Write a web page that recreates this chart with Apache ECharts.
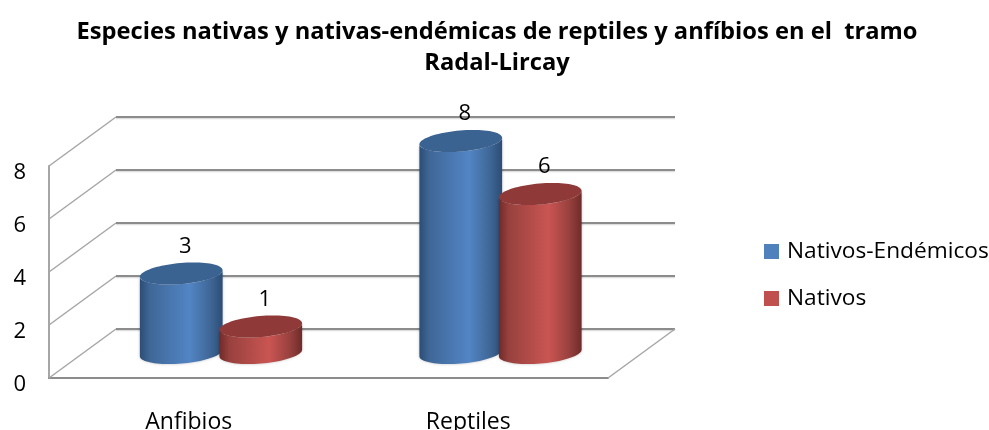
<!DOCTYPE html>
<html><head><meta charset="utf-8">
<style>html,body{margin:0;padding:0;background:#fff}#c{width:989px;height:430px}</style>
<script src="https://cdn.jsdelivr.net/npm/echarts@6/dist/echarts.min.js"></script>
</head><body><div id="c"></div>
<script>
const categories = ['Anfibios', 'Reptiles'];
const nativosEndemicos = [3, 8];
const nativos = [1, 6];
const yTicks = [0, 2, 4, 6, 8];
const titleText = 'Especies nativas y nativas-endémicas de reptiles y anfíbios en el  tramo\nRadal-Lircay';
const FONT = '"Open Sans", sans-serif';
const DEPTH = [67, -49];
const BAR_SHIFT = [32, -25];
const RX = 41.5, RY = 10.5, TILT = -0.085;

function ellipsePt(c, t) {
  const ct = Math.cos(t), st = Math.sin(t), a = Math.cos(TILT), b = Math.sin(TILT);
  return [c[0] + RX * ct * a - RY * st * b, c[1] + RX * ct * b + RY * st * a];
}
function cylinder(offset, colors) {
  return function (params, api) {
    const top = api.coord([api.value(0), api.value(1)]);
    const base = api.coord([api.value(0), 0]);
    const cTop = [top[0] + offset + BAR_SHIFT[0], top[1] + BAR_SHIFT[1]];
    const cBase = [base[0] + offset + BAR_SHIFT[0], base[1] + BAR_SHIFT[1]];
    const t0 = Math.atan2(-RY * Math.sin(TILT), RX * Math.cos(TILT));
    const lower = [], upper = [], disc = [];
    for (let i = 0; i <= 40; i++) {
      const t = t0 + Math.PI * i / 40;
      lower.push(ellipsePt(cBase, t));
      upper.unshift(ellipsePt(cTop, t));
    }
    for (let i = 0; i < 80; i++) disc.push(ellipsePt(cTop, Math.PI * 2 * i / 80));
    const grad = new echarts.graphic.LinearGradient(0, 0, 1, 0, [
      { offset: 0, color: colors[0] },
      { offset: 0.12, color: colors[1] },
      { offset: 0.6, color: colors[2] },
      { offset: 0.85, color: colors[1] },
      { offset: 1, color: colors[0] }
    ]);
    return {
      type: 'group',
      children: [
        { type: 'polygon', shape: { points: lower.concat(upper) },
          style: { fill: grad, shadowBlur: 3, shadowColor: 'rgba(0,0,0,0.25)' } },
        { type: 'polygon', shape: { points: disc }, style: { fill: colors[3] } },
        { type: 'text', style: { text: String(api.value(1)), x: cTop[0] + 4, y: cTop[1] - 27,
            align: 'center', verticalAlign: 'middle', font: '22px ' + FONT, fill: '#000' } }
      ]
    };
  };
}
function walls(params, api) {
  const v = api.value(1);
  const cs = params.coordSys;
  const y = api.coord([0, v])[1];
  const x0 = cs.x, x1 = cs.x + cs.width;
  const children = [
    { type: 'line', shape: { x1: x0, y1: y, x2: x0 + DEPTH[0], y2: y + DEPTH[1] },
      style: { stroke: '#a6a6a6', lineWidth: 1.5 } },
    { type: 'line', shape: { x1: x0 + DEPTH[0], y1: y + DEPTH[1] + 1.5, x2: x1 + DEPTH[0], y2: y + DEPTH[1] + 1.5 },
      style: { stroke: '#dedede', lineWidth: 1.5 } },
    { type: 'line', shape: { x1: x0 + DEPTH[0], y1: y + DEPTH[1], x2: x1 + DEPTH[0], y2: y + DEPTH[1] },
      style: { stroke: '#8c8c8c', lineWidth: 2 } }
  ];
  if (v === 0) {
    children.push({ type: 'line', shape: { x1: x1, y1: y, x2: x1 + DEPTH[0], y2: y + DEPTH[1] },
      style: { stroke: '#a6a6a6', lineWidth: 1.5 } });
  }
  return { type: 'group', children };
}
const chart = echarts.init(document.getElementById('c'), null, { renderer: 'canvas' });
chart.setOption({
  animation: false,
  backgroundColor: '#fff',
  title: {
    text: titleText, left: 492, top: 12, textAlign: 'center',
    textStyle: { fontFamily: FONT, fontWeight: 'bold', fontSize: 23.7, lineHeight: 31, color: '#000' }
  },
  legend: {
    data: ['Nativos-Endémicos', 'Nativos'], orient: 'vertical', left: 759, top: 235,
    icon: 'rect', itemWidth: 15, itemHeight: 15, itemGap: 24,
    textStyle: { fontFamily: FONT, fontSize: 22.7, color: '#000', padding: [0, 0, 0, 3] }
  },
  grid: { left: 49, right: 381, top: 166, bottom: 52, outerBoundsMode: 'none' },
  xAxis: {
    type: 'category', data: categories,
    axisLine: { lineStyle: { color: '#8c8c8c', width: 2 } }, axisTick: { show: false },
    axisLabel: { fontFamily: FONT, fontSize: 23, color: '#000', margin: 33 }
  },
  yAxis: {
    type: 'value', min: 0, max: 8, interval: 2,
    axisLine: { show: true, lineStyle: { color: '#a6a6a6', width: 2 } }, axisTick: { show: false },
    splitLine: { show: false },
    axisLabel: { fontFamily: FONT, fontSize: 22, color: '#000', margin: 23, verticalAlign: 'top', lineHeight: 14 }
  },
  series: [
    { type: 'custom', name: 'walls', silent: true, z: 1, renderItem: walls,
      data: yTicks.map(v => [0, v]), encode: { x: 0, y: 1 } },
    { type: 'custom', name: 'Nativos-Endémicos', z: 2, itemStyle: { color: '#4f81bd' },
      renderItem: cylinder(-39.5, ['#2c4d75', '#3f6797', '#5285c5', '#3b6392']),
      data: nativosEndemicos.map((v, i) => [i, v]), encode: { x: 0, y: 1 } },
    { type: 'custom', name: 'Nativos', z: 3, itemStyle: { color: '#c0504d' },
      renderItem: cylinder(40, ['#6f2b29', '#98413e', '#ca5552', '#8f3a38']),
      data: nativos.map((v, i) => [i, v]), encode: { x: 0, y: 1 } }
  ]
});
</script></body></html>
